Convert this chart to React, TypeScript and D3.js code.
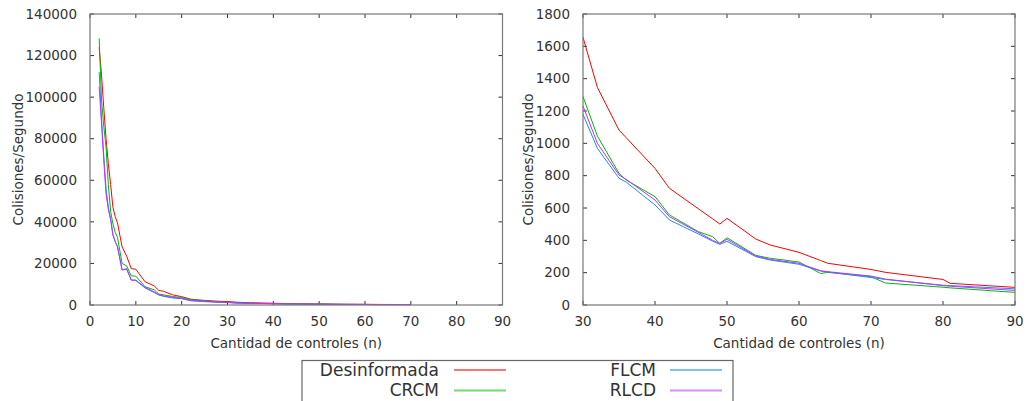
import React from "react";
import * as d3 from "d3";

// series
const seriesNames = ["Desinformada", "CRCM", "FLCM", "RLCD"];
const seriesColors = ["#ff0000", "#00bb00", "#1a8cff", "#c030ff"];

// left chart (small n)
const leftX = [2, 2.5, 3, 3.5, 4, 4.5, 5, 5.5, 6, 7, 8, 9, 10, 12, 14, 15, 16, 18, 20, 22, 25, 28];
const leftRed = [124000, 111000, 95000, 80000, 68000, 58000, 47000, 42500, 39500, 28000, 23500, 17500, 17200, 11200, 9200, 7000, 6600, 4900, 4000, 2800, 2200, 1800];
const leftGreen = [128300, 99000, 86000, 76000, 58000, 45000, 39000, 35000, 32500, 20000, 18800, 14000, 13900, 8800, 7300, 5300, 4900, 4100, 3600, 2600, 2000, 1500];
const leftBlue = [112000, 90000, 72000, 56000, 47000, 41500, 34000, 30500, 28000, 17000, 17200, 12000, 11800, 8200, 6000, 4800, 4200, 3400, 3000, 2000, 1600, 1300];
const leftPurple = [105000, 88000, 69800, 53500, 46000, 41000, 33500, 30500, 28100, 16800, 17500, 12000, 12000, 8500, 6300, 5000, 4400, 3700, 3200, 2200, 1800, 1400];

// right chart (n >= 30)
const rightX = [30, 32, 35, 36, 40, 42, 46, 48, 49, 50, 54, 56, 60, 63, 64, 70, 72, 80, 81, 90];
const rightRed = [1656, 1346, 1082, 1035, 845, 722, 596, 533, 501, 536, 408, 371, 326, 275, 258, 220, 202, 158, 134, 109];
const rightGreen = [1289, 1045, 814, 773, 670, 557, 454, 423, 381, 416, 307, 289, 266, 195, 202, 175, 136, 110, 106, 78];
const rightBlue = [1179, 969, 784, 760, 619, 526, 440, 395, 375, 394, 299, 278, 252, 210, 204, 170, 158, 122, 120, 100];
const rightPurple = [1231, 1000, 804, 777, 649, 546, 450, 400, 381, 406, 303, 282, 258, 212, 206, 179, 160, 120, 116, 90];

// ticks
const leftXTicks = [0, 10, 20, 30, 40, 50, 60, 70, 80, 90];
const leftYTicks = [0, 20000, 40000, 60000, 80000, 100000, 120000, 140000];
const rightXTicks = [30, 40, 50, 60, 70, 80, 90];
const rightYTicks = [0, 200, 400, 600, 800, 1000, 1200, 1400, 1600, 1800];

const FONT = "'DejaVu Sans', Verdana, sans-serif";
const TXT = "#333";

type Pt = [number, number];

function Panel(props: {
  x0: number; x1: number; y0: number; y1: number;
  xDomain: [number, number]; yDomain: [number, number];
  xTicks: number[]; yTicks: number[];
  series: Pt[][]; labelX: number;
}) {
  const { x0, x1, y0, y1 } = props;
  const x = d3.scaleLinear().domain(props.xDomain).range([x0, x1]);
  const y = d3.scaleLinear().domain(props.yDomain).range([y1, y0]);
  const line = d3.line<Pt>().x(d => x(d[0])).y(d => y(d[1]));
  const tl = 4;
  return (
    <g>
      {props.yTicks.map(t => (
        <g key={"y" + t}>
          <line x1={x0} x2={x0 + tl} y1={y(t)} y2={y(t)} stroke="#333" />
          <line x1={x1} x2={x1 - tl} y1={y(t)} y2={y(t)} stroke="#333" />
          <text x={x0 - 13} y={y(t)} dy="0.35em" textAnchor="end" fontSize={13.5} fill={TXT}>{t}</text>
        </g>
      ))}
      {props.xTicks.map(t => (
        <g key={"x" + t}>
          <line x1={x(t)} x2={x(t)} y1={y1} y2={y1 - tl} stroke="#333" />
          <line x1={x(t)} x2={x(t)} y1={y0} y2={y0 + tl} stroke="#333" />
          <text x={x(t)} y={y1 + 16} dy="0.35em" textAnchor="middle" fontSize={13.5} fill={TXT}>{t}</text>
        </g>
      ))}
      {props.series.map((s, i) => (
        <path key={i} d={line(s) || ""} fill="none" stroke={seriesColors[i]} strokeWidth={1} />
      ))}
      <rect x={x0} y={y0} width={x1 - x0} height={y1 - y0} fill="none" stroke="#777" strokeWidth={1.2} />
      <text x={(x0 + x1) / 2} y={343} dy="0.35em" textAnchor="middle" fontSize={13.5} fill={TXT}>Cantidad de controles (n)</text>
      <text transform={`translate(${props.labelX},${(y0 + y1) / 2}) rotate(-90)`} dy="0.35em" textAnchor="middle" fontSize={13.5} fill={TXT}>Colisiones/Segundo</text>
    </g>
  );
}

export default function App() {
  const leftAll = [leftRed, leftGreen, leftBlue, leftPurple];
  const rightAll = [rightRed, rightGreen, rightBlue, rightPurple];
  const leftSeries: Pt[][] = leftAll.map((vals, i) => {
    const head: Pt[] = leftX.map((xv, j) => [xv, vals[j]] as Pt);
    const tail: Pt[] = rightX.filter(xv => xv <= 70).map((xv, j) => [xv, rightAll[i][j]] as Pt);
    return head.concat(tail);
  });
  const rightSeries: Pt[][] = rightAll.map(vals => rightX.map((xv, j) => [xv, vals[j]] as Pt));

  const legend = [
    { tx: 439, lx: 454, y: 370 },
    { tx: 439, lx: 454, y: 390.5 },
    { tx: 656, lx: 670, y: 370 },
    { tx: 656, lx: 670, y: 390.5 },
  ];

  return (
    <svg width={1029} height={401} style={{ position: "absolute", left: 0, top: 0, fontFamily: FONT, background: "#fff" }}>
      <rect width={1029} height={401} fill="#fff" />
      <Panel x0={90} x1={502.5} y0={14} y1={305} xDomain={[0, 90]} yDomain={[0, 140000]}
        xTicks={leftXTicks} yTicks={leftYTicks} series={leftSeries} labelX={18} />
      <Panel x0={583} x1={1015} y0={14} y1={305} xDomain={[30, 90]} yDomain={[0, 1800]}
        xTicks={rightXTicks} yTicks={rightYTicks} series={rightSeries} labelX={528} />
      <rect x={302} y={360.5} width={431} height={60} fill="none" stroke="#666" strokeWidth={1.2} />
      {legend.map((l, i) => (
        <g key={i}>
          <text x={l.tx} y={l.y} dy="0.35em" textAnchor="end" fontSize={17} fill={TXT}>{seriesNames[i]}</text>
          <line x1={l.lx} x2={l.lx + 52} y1={l.y} y2={l.y} stroke={seriesColors[i]} strokeWidth={2} strokeOpacity={0.55} />
        </g>
      ))}
    </svg>
  );
}
